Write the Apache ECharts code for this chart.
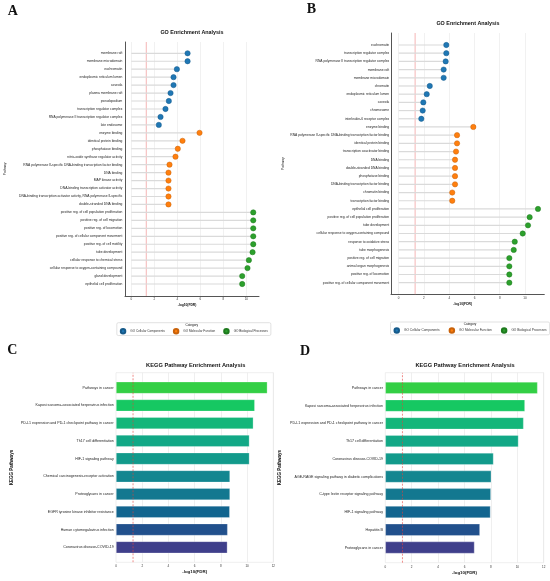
<!DOCTYPE html>
<html>
<head>
<meta charset="utf-8">
<script src="https://cdn.jsdelivr.net/npm/echarts@6/dist/echarts.min.js"></script>
<style>
  html, body { margin: 0; padding: 0; background: #fff; }
  #chart { width: 550px; height: 581px; }
</style>
</head>
<body>
<div id="chart"></div>
<script>
// --- Panel A: GO terms ---
var goA_ccTerms = ['membrane raft', 'membrane microdomain', 'euchromatin', 'endoplasmic reticulum lumen', 'caveola',
  'plasma membrane raft', 'pseudopodium', 'transcription regulator complex',
  'RNA polymerase II transcription regulator complex', 'late endosome'];
var goA_ccVals = [4.89, 4.89, 3.96, 3.67, 3.67, 3.41, 3.26, 2.97, 2.54, 2.39];
var goA_mfTerms = ['enzyme binding', 'identical protein binding', 'phosphatase binding',
  'nitric-oxide synthase regulator activity',
  'RNA polymerase II-specific DNA-binding transcription factor binding', 'DNA binding', 'MAP kinase activity',
  'DNA-binding transcription activator activity',
  'DNA-binding transcription activator activity, RNA polymerase II-specific', 'double-stranded DNA binding'];
var goA_mfVals = [5.93, 4.45, 4.04, 3.84, 3.32, 3.23, 3.23, 3.23, 3.23, 3.23];
var goA_bpTerms = ['positive reg. of cell population proliferation', 'positive reg. of cell migration',
  'positive reg. of locomotion', 'positive reg. of cellular component movement', 'positive reg. of cell motility',
  'tube development', 'cellular response to chemical stress', 'cellular response to oxygen-containing compound',
  'gland development', 'epithelial cell proliferation'];
var goA_bpVals = [10.6, 10.6, 10.6, 10.6, 10.6, 10.54, 10.22, 10.1, 9.64, 9.64];

// --- Panel B: GO terms ---
var goB_ccTerms = ['euchromatin', 'transcription regulator complex', 'RNA polymerase II transcription regulator complex',
  'membrane raft', 'membrane microdomain', 'chromatin', 'endoplasmic reticulum lumen', 'caveola', 'chromosome',
  'interleukin-6 receptor complex'];
var goB_ccVals = [3.77, 3.77, 3.72, 3.56, 3.56, 2.46, 2.22, 1.95, 1.9, 1.79];
var goB_mfTerms = ['enzyme binding', 'RNA polymerase II-specific DNA-binding transcription factor binding',
  'identical protein binding', 'transcription coactivator binding', 'DNA binding', 'double-stranded DNA binding',
  'phosphatase binding', 'DNA-binding transcription factor binding', 'chromatin binding',
  'transcription factor binding'];
var goB_mfVals = [5.91, 4.62, 4.62, 4.54, 4.46, 4.46, 4.46, 4.46, 4.24, 4.24];
var goB_bpTerms = ['epithelial cell proliferation', 'positive reg. of cell population proliferation', 'tube development',
  'cellular response to oxygen-containing compound', 'response to oxidative stress', 'tube morphogenesis',
  'positive reg. of cell migration', 'animal organ morphogenesis', 'positive reg. of locomotion',
  'positive reg. of cellular component movement'];
var goB_bpVals = [11.03, 10.37, 10.24, 9.82, 9.19, 9.11, 8.76, 8.76, 8.76, 8.76];

// --- Panel C / D: KEGG ---
var keggC_terms = ['Pathways in cancer', 'Kaposi sarcoma-associated herpesvirus infection',
  'PD-L1 expression and PD-1 checkpoint pathway in cancer', 'Th17 cell differentiation', 'HIF-1 signaling pathway',
  'Chemical carcinogenesis-receptor activation', 'Proteoglycans in cancer',
  'EGFR tyrosine kinase inhibitor resistance', 'Human cytomegalovirus infection', 'Coronavirus disease-COVID-19'];
var keggC_vals = [11.55, 10.59, 10.48, 10.18, 10.18, 8.70, 8.70, 8.68, 8.52, 8.50];
var keggD_terms = ['Pathways in cancer', 'Kaposi sarcoma-associated herpesvirus infection',
  'PD-L1 expression and PD-1 checkpoint pathway in cancer', 'Th17 cell differentiation',
  'Coronavirus disease-COVID-19', 'AGE-RAGE signaling pathway in diabetic complications',
  'C-type lectin receptor signaling pathway', 'HIF-1 signaling pathway', 'Hepatitis B', 'Proteoglycans in cancer'];
var keggD_vals = [11.54, 10.58, 10.48, 10.09, 8.2, 8.03, 8.0, 7.97, 7.17, 6.76];

var goNames = ['GO Cellular Components', 'GO Molecular Function', 'GO Biological Processes'];
var fdrCut = 1.3;

// styles
var FONT = '"Liberation Sans", Arial, sans-serif';
var goFill = ['#1f77b4', '#ff7f0e', '#2ca02c'];
var goEdge = ['#165a8a', '#c9620a', '#1e7a1e'];
var keggPalette = ['#33cf45', '#16c862', '#14b67a', '#12a886', '#129a8b', '#138690', '#137890', '#12658f',
  '#21508c', '#3f3f8b'];

var chart = echarts.init(document.getElementById('chart'));

var option = {
  animation: false,
  backgroundColor: '#fff',
  grid: [], xAxis: [], yAxis: [], series: [], legend: [], graphic: []
};

function label(text, x, y, size, weight, family, rotation) {
  option.graphic.push({
    type: 'text', x: x, y: y, rotation: rotation || 0, silent: true,
    style: {
      text: text, fill: '#111', fontSize: size, fontWeight: weight || 'normal',
      fontFamily: family || FONT, align: 'center', verticalAlign: 'middle'
    }
  });
}

function addGoPanel(p) {
  var gi = option.grid.length;
  var groups = [[p.cc, p.ccV], [p.mf, p.mfV], [p.bp, p.bpV]];
  var terms = p.cc.concat(p.mf, p.bp);
  var vals = p.ccV.concat(p.mfV, p.bpV);

  option.grid.push({ left: p.left, top: p.top, width: p.width, height: p.height, outerBoundsMode: 'none' });
  option.grid.push({ left: p.left, top: p.rowTop, width: p.width, height: p.rowHeight, outerBoundsMode: 'none' });

  option.xAxis.push({
    gridIndex: gi, type: 'value', min: p.xMin, max: p.xMax,
    name: '-log10(FDR)', nameLocation: 'middle', nameGap: p.nameGapX,
    nameTextStyle: { fontSize: 3.3, fontWeight: 'bold', fontFamily: FONT, color: '#111', padding: [0, 10, 0, 0] },
    axisLine: { show: true, onZero: false, lineStyle: { color: '#555', width: 1 } },
    axisTick: { show: false },
    axisLabel: { fontSize: 3, margin: p.tickMargin, color: '#333', fontFamily: FONT,
      showMinLabel: false, showMaxLabel: false },
    splitLine: { show: true, showMinLine: false, showMaxLine: false, lineStyle: { color: '#e8e8e8', width: 0.6 } }
  });
  option.yAxis.push({
    gridIndex: gi, type: 'value', min: 0, max: 1,
    name: 'Pathway', nameLocation: 'middle', nameGap: p.nameGapY,
    nameTextStyle: { fontSize: 3.3, fontFamily: FONT, color: '#222' },
    axisLine: { show: true, onZero: false, lineStyle: { color: '#555', width: 1 } },
    axisTick: { show: false }, axisLabel: { show: false }, splitLine: { show: false }
  });
  option.xAxis.push({ gridIndex: gi + 1, type: 'value', min: p.xMin, max: p.xMax, show: false });
  option.yAxis.push({
    gridIndex: gi + 1, type: 'category', inverse: true, data: terms,
    axisLine: { show: false }, axisTick: { show: false }, splitLine: { show: false },
    axisLabel: { interval: 0, fontSize: 3.3, margin: p.labelMargin, color: '#222', fontFamily: FONT }
  });

  option.series.push({
    type: 'line', xAxisIndex: gi, yAxisIndex: gi, silent: true, symbol: 'none', z: 1,
    data: [[fdrCut, 0], [fdrCut, 1]],
    lineStyle: { color: '#f2a2a2', width: 0.8 }
  });
  option.series.push({
    type: 'bar', xAxisIndex: gi + 1, yAxisIndex: gi + 1, silent: true, z: 2,
    data: vals, barWidth: 1.2, itemStyle: { color: '#dadada' }
  });
  var offset = 0;
  groups.forEach(function (g, k) {
    var o = offset;
    option.series.push({
      type: 'scatter', name: goNames[k], xAxisIndex: gi + 1, yAxisIndex: gi + 1, z: 3,
      symbolSize: 5.3,
      data: g[1].map(function (v, i) { return [v, o + i]; }),
      itemStyle: { color: goFill[k], borderColor: goEdge[k], borderWidth: 0.5, opacity: 1 }
    });
    offset += g[0].length;
  });

  option.legend.push({
    left: p.legLeft, top: p.legTop, width: 170, orient: 'horizontal', data: goNames, icon: 'circle',
    itemWidth: 4.5, itemHeight: 4.5, itemGap: p.legGap, selectedMode: false,
    padding: [5.3, 3, 1, 3], borderColor: '#cfcfcf', borderWidth: 0.6, borderRadius: 1.5,
    textStyle: { fontSize: p.legFont, color: '#333', fontFamily: FONT }
  });
  label('Category', p.catX, p.legTop + 2.6, 3.1);
  label('GO Enrichment Analysis', p.titleX, p.titleY, 5.4, 'bold');
}

function addKeggPanel(p) {
  var gi = option.grid.length;
  option.grid.push({ left: p.left, top: p.top, width: p.width, height: p.height, outerBoundsMode: 'none',
    show: true, borderColor: '#e4e4e4', borderWidth: 0.6, backgroundColor: 'transparent' });
  option.grid.push({ left: p.left, top: p.rowTop, width: p.width, height: p.rowHeight, outerBoundsMode: 'none' });

  option.xAxis.push({
    gridIndex: gi, type: 'value', min: 0, max: 12, interval: 2,
    name: '-log10(FDR)', nameLocation: 'middle', nameGap: p.nameGapX,
    nameTextStyle: { fontSize: 4.4, fontWeight: 'bold', fontFamily: FONT, color: '#111' },
    axisLine: { show: false }, axisTick: { show: false },
    axisLabel: { fontSize: 3, margin: p.tickMargin, color: '#333', fontFamily: FONT },
    splitLine: { show: true, showMinLine: false, lineStyle: { color: '#e8e8e8', width: 0.7 } }
  });
  option.yAxis.push({
    gridIndex: gi, type: 'value', min: 0, max: 1,
    name: 'KEGG Pathways', nameLocation: 'middle', nameGap: p.nameGapY,
    nameTextStyle: { fontSize: 4.5, fontWeight: 'bold', fontFamily: FONT, color: '#111' },
    axisLine: { show: false }, axisTick: { show: false }, axisLabel: { show: false }, splitLine: { show: false }
  });
  option.xAxis.push({ gridIndex: gi + 1, type: 'value', min: 0, max: 12, show: false });
  option.yAxis.push({
    gridIndex: gi + 1, type: 'category', inverse: true, data: p.terms,
    axisLine: { show: false }, axisTick: { show: false }, splitLine: { show: false },
    axisLabel: { interval: 0, fontSize: 3.6, margin: p.labelMargin, color: '#222', fontFamily: FONT }
  });

  option.series.push({
    type: 'bar', xAxisIndex: gi + 1, yAxisIndex: gi + 1, silent: true, z: 2, barWidth: 12,
    data: p.vals.map(function (v, i) {
      return { value: v, itemStyle: { color: keggPalette[i] } };
    }),
    itemStyle: { borderColor: 'rgba(255,255,255,0.45)', borderWidth: 0.6 }
  });
  option.series.push({
    type: 'line', xAxisIndex: gi, yAxisIndex: gi, silent: true, symbol: 'none', z: 3,
    data: [[fdrCut, 0], [fdrCut, 1]],
    lineStyle: { color: '#e5403a', width: 0.6, type: [2, 1.5] }
  });
  label('KEGG Pathway Enrichment Analysis', p.titleX, p.titleY, 5.7, 'bold');
}

addGoPanel({
  cc: goA_ccTerms, ccV: goA_ccVals, mf: goA_mfTerms, mfV: goA_mfVals, bp: goA_bpTerms, bpV: goA_bpVals,
  left: 125, top: 42, width: 134, height: 254, rowTop: 49.3, rowHeight: 238.7, xMin: -0.55, xMax: 11.1,
  nameGapX: 7.4, nameGapY: 118, tickMargin: 1.8, labelMargin: 2.7,
  legLeft: 116.8, legTop: 322.7, legGap: 8, legFont: 3.1, catX: 191.7, titleX: 192, titleY: 33
});
addGoPanel({
  cc: goB_ccTerms, ccV: goB_ccVals, mf: goB_mfTerms, mfV: goB_mfVals, bp: goB_bpTerms, bpV: goB_bpVals,
  left: 391, top: 33, width: 153.3, height: 261.3, rowTop: 40.9, rowHeight: 245.9, xMin: -0.61, xMax: 11.53,
  nameGapX: 8.3, nameGapY: 106, tickMargin: 2.2, labelMargin: 1.8,
  legLeft: 390.5, legTop: 322, legGap: 9, legFont: 3.2, catX: 470, titleX: 468, titleY: 23.7
});
addKeggPanel({
  terms: keggC_terms, vals: keggC_vals,
  left: 116, top: 372.7, width: 157.3, height: 189.6, rowTop: 378.8, rowHeight: 177.4,
  nameGapX: 7.2, nameGapY: 102, tickMargin: 2.2, labelMargin: 2.3, titleX: 195.7, titleY: 365.7
});
addKeggPanel({
  terms: keggD_terms, vals: keggD_vals,
  left: 385.3, top: 372.7, width: 158.4, height: 190, rowTop: 379, rowHeight: 177.4,
  nameGapX: 7.7, nameGapY: 103, tickMargin: 2.5, labelMargin: 2.3, titleX: 465, titleY: 365.7
});

// panel letters
var SERIF = '"Liberation Serif", "DejaVu Serif", serif';
label('A', 12.8, 11.7, 14, 'bold', SERIF);
label('B', 311.3, 9.5, 14, 'bold', SERIF);
label('C', 12.3, 350.5, 14, 'bold', SERIF);
label('D', 305, 351, 14, 'bold', SERIF);

chart.setOption(option);
window.addEventListener('resize', function () { chart.resize(); });
</script>
</body>
</html>
